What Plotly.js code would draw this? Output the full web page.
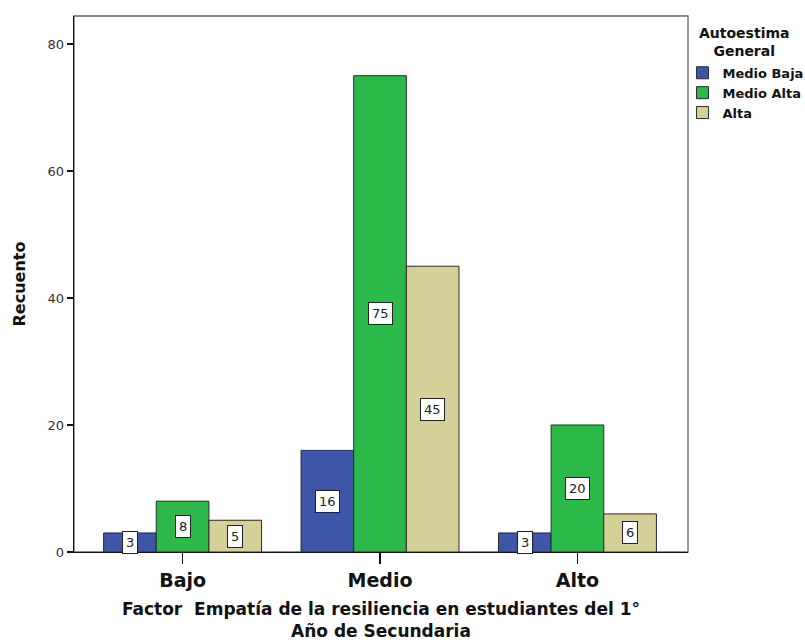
<!DOCTYPE html>
<html>
<head>
<meta charset="utf-8">
<script src="https://cdn.plot.ly/plotly-3.0.1.min.js"></script>
<style>
  html, body { margin: 0; padding: 0; background: #fff; }
  #chart { width: 805px; height: 642px; }
</style>
</head>
<body>
<div id="chart"></div>
<script>
// Factor levels on the x axis
const categories = ['Bajo', 'Medio', 'Alto'];
// Counts per self-esteem level
const medioBaja = [3, 16, 3];
const medioAlta = [8, 75, 20];
const alta = [5, 45, 6];
const seriesNames = ['Medio Baja', 'Medio Alta', 'Alta'];
const yTicks = [0, 20, 40, 60, 80];

const seriesValues = [medioBaja, medioAlta, alta];
const colors = ['#3e56a8', '#2db84a', '#d5cf98'];
const xIdx = categories.map((_, i) => i);
const FONT = 'DejaVu Sans, Liberation Sans, Arial, sans-serif';

const traces = seriesValues.map((vals, j) => ({
  type: 'bar',
  name: seriesNames[j],
  x: xIdx,
  y: vals,
  marker: { color: colors[j], line: { color: '#2a2a2a', width: 1 } },
  hoverinfo: 'none'
}));

// Boxed count labels at the middle of each bar
const nSeries = seriesValues.length;
const groupWidth = 0.8;
const barW = groupWidth / nSeries;
const annotations = [];
seriesValues.forEach((vals, j) => {
  vals.forEach((v, i) => {
    annotations.push({
      x: i - groupWidth / 2 + barW * (j + 0.5),
      y: v / 2,
      xref: 'x', yref: 'y',
      text: String(v),
      showarrow: false,
      font: { family: FONT, size: 13, color: '#222' },
      bgcolor: '#ffffff',
      bordercolor: '#222',
      borderwidth: 1,
      borderpad: 3
    });
  });
});

// Legend heading, two centred lines
annotations.push({
  xref: 'paper', yref: 'paper',
  x: 1.091, y: 0.987,
  xanchor: 'center', yanchor: 'top',
  align: 'center',
  text: 'Autoestima<br>General',
  showarrow: false,
  font: { family: FONT, size: 14, weight: 'bold', color: '#111' }
});

const layout = {
  width: 805,
  height: 642,
  margin: { l: 74, r: 117, t: 16, b: 90, autoexpand: false },
  paper_bgcolor: '#ffffff',
  plot_bgcolor: '#ffffff',
  font: { family: FONT, color: '#111' },
  barmode: 'group',
  bargap: 0.2,
  bargroupgap: 0,
  showlegend: true,
  xaxis: {
    range: [-0.55, 2.56],
    tickvals: xIdx,
    ticktext: categories,
    ticks: 'outside',
    ticklen: 11,
    tickcolor: '#111',
    tickwidth: 1.3,
    tickfont: { family: FONT, size: 19, weight: 'bold', color: '#111' },
    showline: true,
    linecolor: '#111',
    linewidth: 1.3,
    showgrid: false,
    zeroline: false,
    title: {
      text: 'Factor  Empatía de la resiliencia en estudiantes del 1°<br>Año de Secundaria',
      font: { family: FONT, size: 17, weight: 'bold', color: '#111' },
      standoff: 13
    }
  },
  yaxis: {
    range: [0, 84.4],
    tickvals: yTicks,
    ticks: 'outside',
    ticklen: 6,
    tickcolor: '#111',
    tickwidth: 1.3,
    tickfont: { family: FONT, size: 13, color: '#333' },
    showline: true,
    linecolor: '#111',
    linewidth: 1.3,
    showgrid: false,
    zeroline: false,
    title: {
      text: 'Recuento',
      font: { family: FONT, size: 16, weight: 'bold', color: '#111' },
      standoff: 18
    }
  },
  legend: {
    x: 0.991, xanchor: 'left',
    y: 0.922, yanchor: 'top',
    font: { family: FONT, size: 13, weight: 'bold', color: '#111' },
    tracegroupgap: 0,
    itemwidth: 30,
    bgcolor: 'rgba(0,0,0,0)'
  },
  shapes: [{
    type: 'rect', xref: 'paper', yref: 'paper',
    x0: 0, x1: 1, y0: 0, y1: 1,
    line: { color: '#666', width: 1.3 },
    layer: 'below'
  }],
  annotations: annotations
};

Plotly.newPlot('chart', traces, layout, { staticPlot: true, displayModeBar: false });
</script>
</body>
</html>
